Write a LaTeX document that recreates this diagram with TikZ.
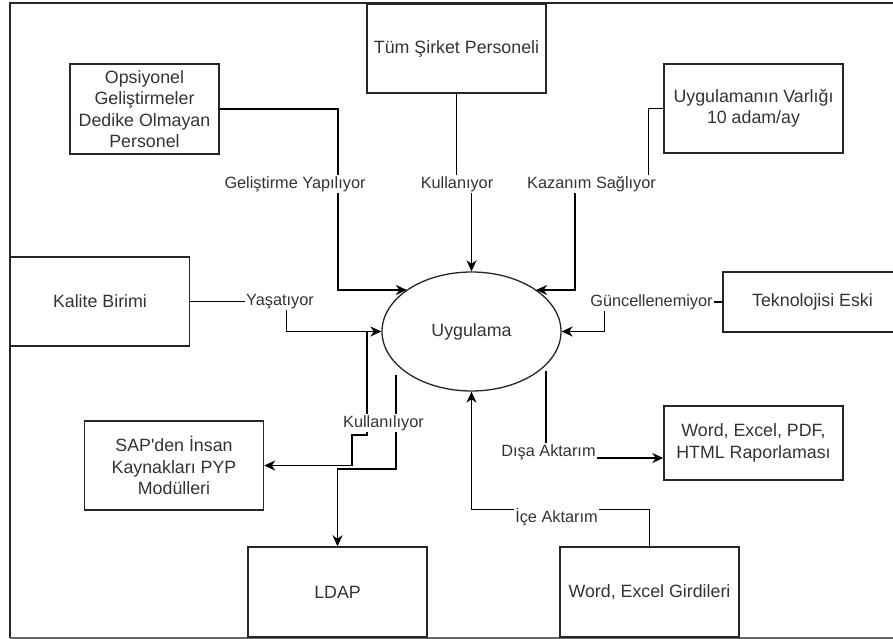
\documentclass[tikz,border=0pt]{standalone}
\usepackage{fontspec}
\setmainfont{Liberation Sans}
\usepackage{xcolor}
\usetikzlibrary{shapes.geometric,arrows.meta,positioning}

\definecolor{inkgray}{HTML}{333333}

\begin{document}
\begin{tikzpicture}[
    x=1pt, y=-1pt,
    every node/.style={font=\fontsize{17.8}{21.5}\selectfont, text=inkgray},
    % boxes and the central process
    entity/.style={
        rectangle,
        draw=black!85,
        line width=1.5pt,
        minimum width=179pt,
        minimum height=89pt,
        align=center,
        inner sep=2pt
    },
    process/.style={
        ellipse,
        draw=black!85,
        line width=1.3pt,
        minimum width=179pt,
        minimum height=119pt,
        inner sep=0pt
    },
    flowlbl/.style={fill=white, inner sep=1.5pt, font=\fontsize{16.3}{19}\selectfont},
    flow/.style={line width=1.4pt, -{Stealth[length=11pt,width=10pt,inset=3.5pt]}},
    frameline/.style={line width=2pt, black!85}
]
\useasboundingbox (0,0) rectangle (893,639);

% Frame
\draw[frameline] (893,3.5) -- (9.5,3.5) -- (9.5,637.5);
\draw[line width=2pt, gray!80!black] (9.5,638) -- (893,638);

% Central process
\node[process] (app) at (471.5,331.5) {Uygulama};

% Entities
\node[entity] (tum) at (456.5,48.5) {Tüm Şirket Personeli};
\node[entity, minimum width=149pt, minimum height=90pt] (ops) at (144.5,109) {Opsiyonel\\Geliştirmeler\\Dedike Olmayan\\Personel};
\node[entity] (varlik) at (753.5,108.5) {Uygulamanın Varlığı\\10 adam/ay};
\node[entity] (kalite) at (100,301.5) {Kalite Birimi};
\node[entity, minimum height=60pt] (tekno) at (812.5,302) {Teknolojisi Eski};
\node[entity] (sap) at (174,465.5) {SAP\textquotesingle den İnsan\\Kaynakları PYP\\Modülleri};
\node[entity, minimum height=74pt] (rapor) at (753.5,443) {Word, Excel, PDF,\\HTML Raporlaması};
\node[entity, minimum height=90pt] (ldap) at (337.5,592) {LDAP};
\node[entity, minimum height=90pt] (girdi) at (649.5,592) {Word, Excel Girdileri};

% Incoming flows
\coordinate (gelK) at (338,290);
\draw[flow] (ops.east) -| (gelK) -- (app.147 |- gelK);
\draw[flow] (tum.south) -- ++(0,91) -| (app.north);
\coordinate (kazK) at (575,290);
\draw[flow] (varlik.west) -- ++(-15,0) -- ++(0,75.5) -| (kazK) -- (app.33 |- kazK);
\draw[flow] (kalite.east) -- ++(96,0) |- (app.west);
\draw[flow] (tekno.west) -- ++(-118,0) |- (app.east);
\draw[flow] (girdi.north) -- ++(0,-37) -| (app.south);

% Outgoing flows
\draw[flow] (app.west) -| (367,435) -| (352,465.5) -- (sap.east);
\coordinate (ldapS) at (396,375);
\draw[flow] (ldapS) -- (396,469) -| (ldap.north);
\coordinate (disaS) at (546,371);
\coordinate (disaE) at (546,458);
\draw[flow] (disaS) -- (disaE) -- (disaE -| rapor.west);

% Flow labels
\node[flowlbl] (gelL) at (295,184) {Geliştirme Yapılıyor};
\node[flowlbl] (kulL) at (457,184) {Kullanıyor};
\node[flowlbl] (kazL) at (591.5,184) {Kazanım Sağlıyor};
\node[flowlbl] (yasL) at (280,301.5) {Yaşatıyor};
\node[flowlbl] (gunL) at (651.5,302) {Güncellenemiyor};
\node[flowlbl] (kllL) at (383.5,423) {Kullanılıyor};
\node[flowlbl] (disL) at (548.5,452) {Dışa Aktarım};
\node[flowlbl] (iceL) at (556.5,517) {İçe Aktarım};

\end{tikzpicture}
\end{document}
